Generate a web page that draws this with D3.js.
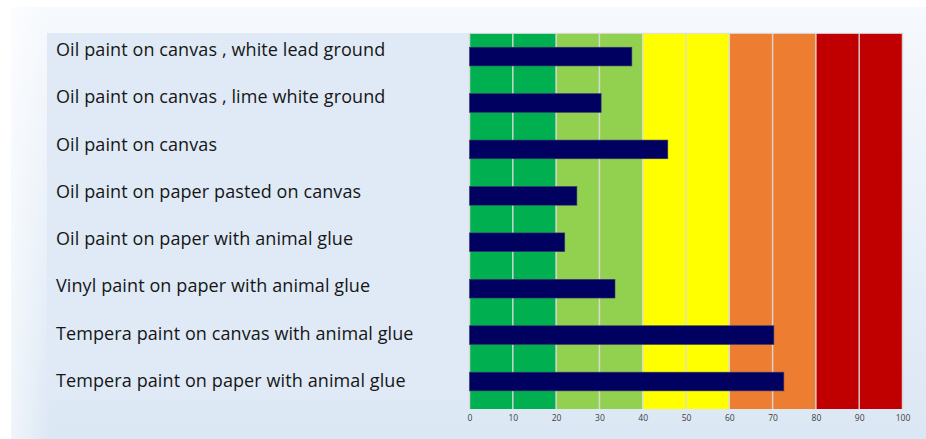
<!DOCTYPE html>
<html>
<head>
<meta charset="utf-8">
<script src="https://cdn.jsdelivr.net/npm/d3@7"></script>
<style>
  html, body { margin: 0; padding: 0; background: #ffffff; }
  svg { display: block; }
</style>
</head>
<body>
<svg id="chart" width="926" height="439"></svg>
<script>
const categories = [
  "Oil paint on canvas , white lead ground",
  "Oil paint on canvas , lime white ground",
  "Oil paint on canvas",
  "Oil paint on paper pasted on canvas",
  "Oil paint on paper with animal glue",
  "Vinyl paint on paper with animal glue",
  "Tempera paint on canvas with animal glue",
  "Tempera paint on paper with animal glue"
];
const values = [37.5, 30.4, 45.8, 24.8, 22.0, 33.6, 70.3, 72.6];
const zoneStarts = [0, 20, 40, 60, 80];
const zoneEnds = [20, 40, 60, 80, 100];
const zoneColors = ["#00b050", "#92d050", "#ffff00", "#ed7d31", "#c00000"];
const tickValues = [0, 10, 20, 30, 40, 50, 60, 70, 80, 90, 100];

const svg = d3.select("#chart");
const defs = svg.append("defs");
const grad = defs.append("linearGradient").attr("id", "bg").attr("x1", 0).attr("y1", 0).attr("x2", 0).attr("y2", 1);
grad.append("stop").attr("offset", "0%").attr("stop-color", "#f6f9fd");
grad.append("stop").attr("offset", "100%").attr("stop-color", "#dbe7f4");
const grad2 = defs.append("linearGradient").attr("id", "bgl").attr("x1", 0).attr("y1", 0).attr("x2", 1).attr("y2", 0);
grad2.append("stop").attr("offset", "0%").attr("stop-color", "#ffffff").attr("stop-opacity", 0.6);
grad2.append("stop").attr("offset", "100%").attr("stop-color", "#ffffff").attr("stop-opacity", 0);

// outer background
svg.append("rect").attr("x", 11).attr("y", 7).attr("width", 915).attr("height", 432).attr("fill", "url(#bg)");
svg.append("rect").attr("x", 11).attr("y", 7).attr("width", 40).attr("height", 432).attr("fill", "url(#bgl)");

// label panel
svg.append("rect").attr("x", 47).attr("y", 33).attr("width", 423).attr("height", 366).attr("fill", "#dfeaf6");

const plotLeft = 469.5, plotRight = 902.5, plotTop = 33.3, plotBottom = 409;
const x = d3.scaleLinear().domain([0, 100]).range([plotLeft, plotRight]);
const y = d3.scaleBand().domain(categories).range([plotTop, 404.8]).paddingInner(0.597).paddingOuter(0.3);
const yLabel = d3.scalePoint().domain(categories).range([50, 381]);

// zones
svg.append("g").selectAll("rect").data(zoneStarts).join("rect")
  .attr("x", (d) => x(d))
  .attr("y", plotTop)
  .attr("width", (d, i) => x(zoneEnds[i]) - x(d))
  .attr("height", plotBottom - plotTop)
  .attr("fill", (d, i) => zoneColors[i]);

// gridlines
svg.append("g").selectAll("line").data(tickValues).join("line")
  .attr("x1", (d) => x(d)).attr("x2", (d) => x(d))
  .attr("y1", plotTop).attr("y2", plotBottom)
  .attr("stroke", "#dcdcdc").attr("stroke-width", 1.5).attr("stroke-opacity", 0.9);
svg.append("line").attr("x1", plotLeft).attr("x2", plotRight).attr("y1", plotTop).attr("y2", plotTop)
  .attr("stroke", "#dcdcdc").attr("stroke-width", 1);

// bars
svg.append("g").selectAll("rect").data(categories).join("rect")
  .attr("x", x(0))
  .attr("y", (d) => y(d))
  .attr("width", (d, i) => x(values[i]) - x(0))
  .attr("height", y.bandwidth())
  .attr("fill", "#000060")
  .attr("stroke", "#3a3a6a").attr("stroke-width", 0.6);

// category labels
svg.append("g").selectAll("text").data(categories).join("text")
  .attr("x", 56)
  .attr("y", (d) => yLabel(d) + 6)
  .attr("font-family", "Open Sans, sans-serif")
  .attr("font-size", 18)
  .attr("letter-spacing", 0.1)
  .attr("fill", "#161616")
  .text((d) => d);

// x axis tick labels
const axis = d3.axisBottom(x).tickValues(tickValues).tickSize(0).tickPadding(6);
const ga = svg.append("g").attr("transform", `translate(0,${plotBottom})`).call(axis);
ga.select(".domain").remove();
ga.selectAll("text").attr("font-family", "Open Sans, sans-serif").attr("font-size", 8.5).attr("fill", "#404040");
</script>
</body>
</html>
